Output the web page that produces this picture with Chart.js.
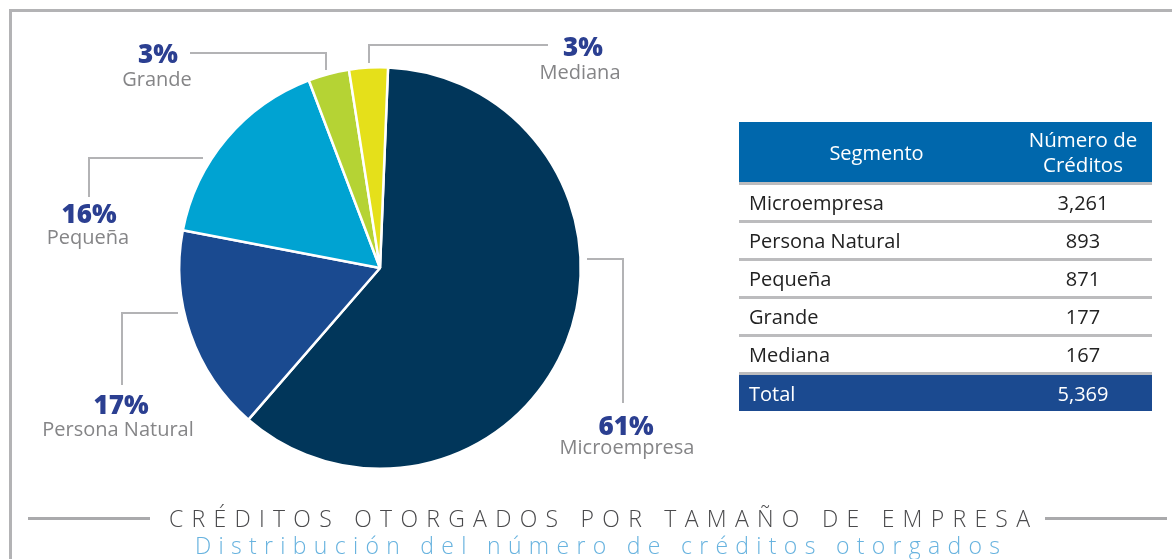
<!DOCTYPE html>
<html><head><meta charset="utf-8">
<script src="https://cdn.jsdelivr.net/npm/chart.js@4"></script>
<style>
html,body{margin:0;padding:0;background:#fff;}
body{width:1172px;height:559px;position:relative;overflow:hidden;font-family:"Open Sans",sans-serif;}
#frameTop{position:absolute;left:9px;top:9px;width:1163px;height:3px;background:#b3b3b5;}
#frameLeft{position:absolute;left:9px;top:9px;width:3px;height:550px;background:#b3b3b5;}
#cv{position:absolute;left:0;top:0;}
#tbl{position:absolute;left:739px;top:122px;width:413px;border-collapse:collapse;font-size:20px;color:#222;}
#tbl td,#tbl th{padding:0;font-weight:400;}
#tbl thead th{background:#0067ac;color:#fff;height:60px;line-height:25px;border-bottom:3px solid #bcbcbe;}
#tbl thead th#h2{font-size:20.5px;}
#tbl tbody td{height:35px;border-bottom:3px solid #bcbcbe;}
#tbl tbody tr.total td{background:#1b4a90;color:#fff;border-bottom:none;height:36px;}
#tbl td.n{padding-left:10px;}
#tbl td.v{text-align:center;width:138px;}
.fl{position:absolute;height:3px;background:#aaaaac;top:517px;}
#t1{position:absolute;top:503px;left:169px;white-space:nowrap;font-size:23px;font-weight:300;color:#4a4a4c;line-height:30px;}
#t2{position:absolute;top:531px;left:195px;white-space:nowrap;font-size:23px;font-weight:300;color:#68b3df;line-height:28px;}
</style></head>
<body>
<div id="frameTop"></div><div id="frameLeft"></div>
<canvas id="cv" width="1172" height="559"></canvas>
<table id="tbl"><thead><tr><th id="h1"></th><th id="h2"></th></tr></thead><tbody id="tb"></tbody></table>
<div class="fl" style="left:28px;width:122px"></div>
<div class="fl" style="left:1045px;width:122px"></div>
<div id="t1">CRÉDITOS OTORGADOS POR TAMAÑO DE EMPRESA</div>
<div id="t2">Distribución del número de créditos otorgados</div>
<script>
const categories = ["Microempresa","Persona Natural","Pequeña","Grande","Mediana"];
const credits = [3261, 893, 871, 177, 167];
const sliceColors = ["#01365a","#1a4a90","#00a3d2","#b5d334","#e5e01a"];
const tableHeaders = ["Segmento","Número de<br>Créditos"];
const totalLabel = "Total";

const total = credits.reduce((a,b)=>a+b,0);
const fmt = n => n.toLocaleString("en-US");

// table
document.getElementById("h1").innerHTML = tableHeaders[0];
document.getElementById("h2").innerHTML = tableHeaders[1];
const tb = document.getElementById("tb");
categories.forEach((c,i)=>{
  const tr=document.createElement("tr");
  tr.innerHTML='<td class="n">'+c+'</td><td class="v">'+fmt(credits[i])+'</td>';
  tb.appendChild(tr);
});
const trt=document.createElement("tr");trt.className="total";
trt.innerHTML='<td class="n">'+totalLabel+'</td><td class="v">'+fmt(total)+'</td>';
tb.appendChild(trt);

// fit footer letter spacing
function fit(id,w){
  const el=document.getElementById(id);
  const n=el.textContent.length;
  el.style.letterSpacing='0px';
  const w0=el.getBoundingClientRect().width;
  el.style.letterSpacing=((w-w0)/(n-1))+'px';
}
fit('t1',861); fit('t2',805);

// label layout offsets relative to pie center (pixels)
const labelLayout = [
  {pct:[246,160], name:[247,180], line:[[207,-9],[243,-9],[243,135]]},
  {pct:[-259,139], name:[-262,162], line:[[-202,45],[-258,45],[-258,117]]},
  {pct:[-291,-52], name:[-292,-30], line:[[-177,-110],[-291,-110],[-291,-71]]},
  {pct:[-222,-212], name:[-223,-188], line:[[-54,-198],[-54,-215],[-190,-215]]},
  {pct:[203,-219], name:[200,-195], line:[[-11,-205],[-11,-223],[168,-223]]}
];

const labelPlugin = {
  id:'labels',
  afterDatasetsDraw(chart){
    const ctx=chart.ctx;
    const meta=chart.getDatasetMeta(0);
    const a0=meta.data[0];
    const cx=a0.x, cy=a0.y;
    ctx.save();
    meta.data.forEach((arc,i)=>{
      const L=labelLayout[i];
      ctx.strokeStyle="#b3b3b5"; ctx.lineWidth=2; ctx.lineJoin="miter";
      ctx.beginPath();
      L.line.forEach((p,j)=>{ if(j===0) ctx.moveTo(cx+p[0],cy+p[1]); else ctx.lineTo(cx+p[0],cy+p[1]); });
      ctx.stroke();
      const pct=Math.round(credits[i]/total*100)+"%";
      ctx.textAlign="center"; ctx.textBaseline="middle";
      ctx.fillStyle="#2b3f91";
      ctx.font='800 26px "Open Sans"';
      ctx.fillText(pct,cx+L.pct[0],cy+L.pct[1]);
      ctx.fillStyle="#858587";
      ctx.font='400 20px "Open Sans"';
      ctx.fillText(categories[i],cx+L.name[0],cy+L.name[1]);
    });
    ctx.restore();
  }
};

new Chart(document.getElementById("cv"),{
  type:'pie',
  data:{labels:categories,datasets:[{data:credits,backgroundColor:sliceColors,borderColor:"#ffffff",borderWidth:2.5,hoverOffset:0}]},
  options:{
    responsive:false,animation:false,
    rotation:2.3,
    layout:{padding:{left:178,top:66,right:590,bottom:89}},
    plugins:{legend:{display:false},tooltip:{enabled:false}}
  },
  plugins:[labelPlugin]
});
</script>
</body></html>
